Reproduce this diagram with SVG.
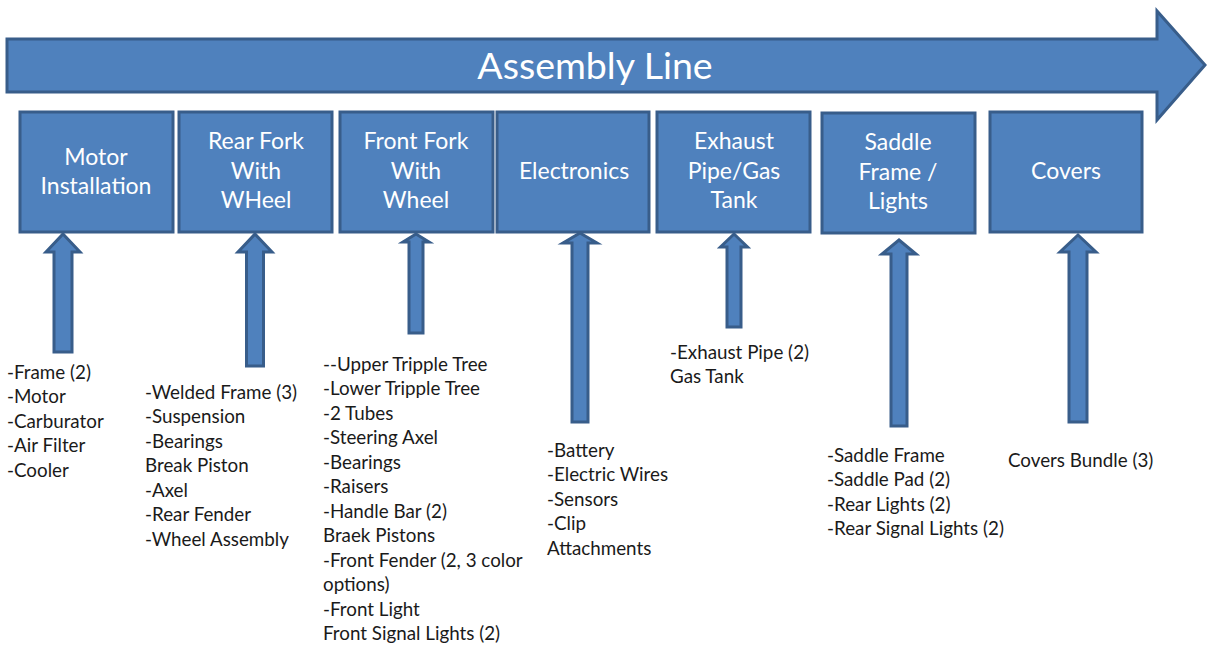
<svg xmlns="http://www.w3.org/2000/svg" width="1207" height="646" viewBox="0 0 1207 646">
  <style>
    .shape { fill: #4f81bd; stroke: #385d8a; stroke-width: 3; stroke-linejoin: miter; }
    .title { font-family: Lato, "Open Sans", sans-serif; font-size: 37.5px; fill: #ffffff; text-anchor: middle; }
    .label { font-family: Lato, "Open Sans", sans-serif; font-size: 23px; fill: #ffffff; text-anchor: middle; }
    .list { font-family: Lato, "Open Sans", sans-serif; font-size: 18.8px; fill: #1a1a1a; }
  </style>
  <rect width="1207" height="646" fill="#ffffff"/>

  <!-- main flow arrow -->
  <g id="assembly-line">
    <path class="shape" d="M7,39 H1157 V11 L1205,65 L1157,120 V92 H7 Z"/>
    <text class="title" x="595" y="79">Assembly Line</text>
  </g>

  <!-- stations -->
  <g id="motor-installation">
    <rect class="shape" x="20" y="112" width="153" height="120"/>
    <text class="label" x="96" y="165">Motor</text>
    <text class="label" x="96" y="194">Installation</text>
  </g>
  <g id="rear-fork">
    <rect class="shape" x="179" y="112" width="153" height="120"/>
    <text class="label" x="256" y="149">Rear Fork</text>
    <text class="label" x="256" y="179">With</text>
    <text class="label" x="256" y="208">WHeel</text>
  </g>
  <g id="front-fork">
    <rect class="shape" x="340" y="112" width="153" height="120"/>
    <text class="label" x="416" y="149">Front Fork</text>
    <text class="label" x="416" y="179">With</text>
    <text class="label" x="416" y="208">Wheel</text>
  </g>
  <g id="electronics">
    <rect class="shape" x="497" y="112" width="152" height="120"/>
    <text class="label" x="574" y="179">Electronics</text>
  </g>
  <g id="exhaust-gas-tank">
    <rect class="shape" x="657" y="112" width="153" height="120"/>
    <text class="label" x="734" y="149">Exhaust</text>
    <text class="label" x="734" y="179">Pipe/Gas</text>
    <text class="label" x="734" y="208">Tank</text>
  </g>
  <g id="saddle-lights">
    <rect class="shape" x="822" y="113" width="153" height="120"/>
    <text class="label" x="898" y="150">Saddle</text>
    <text class="label" x="898" y="180">Frame /</text>
    <text class="label" x="898" y="209">Lights</text>
  </g>
  <g id="covers">
    <rect class="shape" x="990" y="112" width="152" height="120"/>
    <text class="label" x="1066" y="179">Covers</text>
  </g>

  <!-- parts feeding each station -->
  <g id="connectors">
    <path class="shape" d="M63,234 L80,252 H72 V352 H54 V252 H46 Z"/>
    <path class="shape" d="M255,234 L272,252 H263.5 V366 H246.5 V252 H238 Z"/>
    <path class="shape" d="M416,234 L429,242 H423 V333 H409 V242 H403 Z"/>
    <path class="shape" d="M580,233 L597,243 H588 V422 H572 V243 H563 Z"/>
    <path class="shape" d="M734,234 L747.5,247 H741 V327 H727 V247 H720.5 Z"/>
    <path class="shape" d="M899,240 L916,254 H907 V426 H891 V254 H882 Z"/>
    <path class="shape" d="M1078,235 L1096,252 H1087 V422 H1069 V252 H1060 Z"/>
  </g>

  <!-- part lists -->
  <g id="motor-parts">
    <text class="list" x="7" y="379">-Frame (2)</text>
    <text class="list" x="7" y="403">-Motor</text>
    <text class="list" x="7" y="428">-Carburator</text>
    <text class="list" x="7" y="452">-Air Filter</text>
    <text class="list" x="7" y="477">-Cooler</text>
  </g>
  <g id="rear-fork-parts">
    <text class="list" x="145" y="399">-Welded Frame (3)</text>
    <text class="list" x="145" y="423">-Suspension</text>
    <text class="list" x="145" y="448">-Bearings</text>
    <text class="list" x="145" y="472">Break Piston</text>
    <text class="list" x="145" y="497">-Axel</text>
    <text class="list" x="145" y="521">-Rear Fender</text>
    <text class="list" x="145" y="546">-Wheel Assembly</text>
  </g>
  <g id="front-fork-parts">
    <text class="list" x="323" y="371">--Upper Tripple Tree</text>
    <text class="list" x="323" y="395">-Lower Tripple Tree</text>
    <text class="list" x="323" y="420">-2 Tubes</text>
    <text class="list" x="323" y="444">-Steering Axel</text>
    <text class="list" x="323" y="469">-Bearings</text>
    <text class="list" x="323" y="493">-Raisers</text>
    <text class="list" x="323" y="518">-Handle Bar (2)</text>
    <text class="list" x="323" y="542">Braek Pistons</text>
    <text class="list" x="323" y="567">-Front Fender (2, 3 color</text>
    <text class="list" x="323" y="591">options)</text>
    <text class="list" x="323" y="616">-Front Light</text>
    <text class="list" x="323" y="640">Front Signal Lights (2)</text>
  </g>
  <g id="electronics-parts">
    <text class="list" x="547" y="457">-Battery</text>
    <text class="list" x="547" y="481">-Electric Wires</text>
    <text class="list" x="547" y="506">-Sensors</text>
    <text class="list" x="547" y="530">-Clip</text>
    <text class="list" x="547" y="555">Attachments</text>
  </g>
  <g id="exhaust-parts">
    <text class="list" x="670" y="359">-Exhaust Pipe (2)</text>
    <text class="list" x="670" y="383">Gas Tank</text>
  </g>
  <g id="saddle-parts">
    <text class="list" x="827" y="462">-Saddle Frame</text>
    <text class="list" x="827" y="486">-Saddle Pad (2)</text>
    <text class="list" x="827" y="511">-Rear Lights (2)</text>
    <text class="list" x="827" y="535">-Rear Signal Lights (2)</text>
  </g>
  <g id="covers-parts">
    <text class="list" x="1008" y="467">Covers Bundle (3)</text>
  </g>
</svg>
